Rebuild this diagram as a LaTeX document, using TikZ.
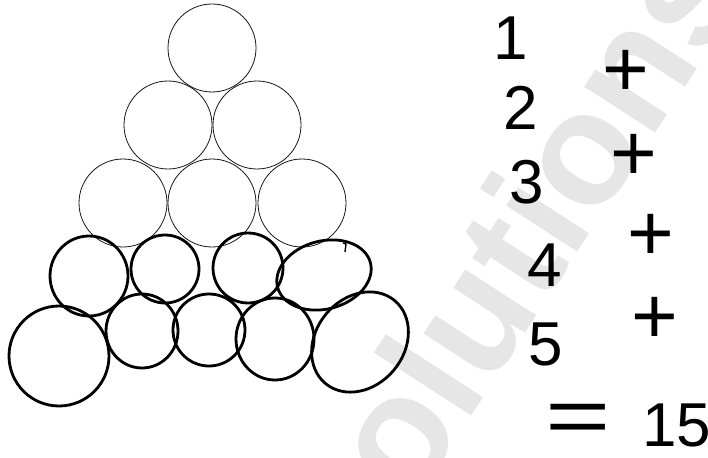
\documentclass[tikz,border=0pt]{standalone}
\usepackage{fontspec}
\setmainfont{Liberation Sans}
\usepackage{xcolor}
\definecolor{markgray}{RGB}{230,230,230}
\definecolor{inkfig}{RGB}{20,20,20}
\tikzset{
    thinring/.style={line width=0.8pt, color=inkfig},
    thickring/.style={line width=2.8pt, color=black},
    handnum/.style={font=\fontsize{62}{62}\selectfont, inner sep=0pt, color=black},
    handplus/.style={font=\fontsize{80}{80}\selectfont, inner sep=0pt, color=black},
    watermark/.style={font=\fontsize{160}{160}\selectfont\bfseries, color=markgray, inner sep=0pt}
}

\begin{document}
\begin{tikzpicture}[x=1pt, y=-1pt]
        \useasboundingbox (0,0) rectangle (708,457);
        
        % faint watermark behind everything
        \node[watermark, rotate=57, anchor=base west] (mark) at (354,597) {Solutions};
        
        % top three rows, printed circles
        \draw[thinring] (212,48) circle (44);
        \draw[thinring] (168,125) circle (44);
        \draw[thinring] (257,125) circle (44);
        \draw[thinring] (123,203) circle (44);
        \draw[thinring] (212,203) circle (44);
        \draw[thinring] (302,203) circle (44);
        
        % fourth row, drawn by hand
        \draw[thickring] (89,276) ellipse (39 and 40);
        \draw[thickring] (165,269) circle (34);
        \draw[thickring] (248,268) circle (35);
        \draw[thickring, rotate around={15:(324,275)}] (324,275) ellipse (48 and 34);
        \draw[line width=1.4pt] (343,243) -- (346,244) -- (345,252);
        
        % fifth row, drawn by hand
        \draw[thickring] (59,356) circle (50);
        \draw[thickring] (142,331) ellipse (36 and 37);
        \draw[thickring] (209,330) circle (36);
        \draw[thickring] (275,339) ellipse (39 and 41);
        \draw[thickring, rotate around={50:(360,342)}] (360,342) ellipse (54 and 44);
        
        % the sum
        \node[handnum] (one) at (511,38) {1};
        \node[handnum] (two) at (521,108) {2};
        \node[handnum] (three) at (527,182) {3};
        \node[handnum] (four) at (545,265) {4};
        \node[handnum] (five) at (546,344) {5};
        
        \node[handplus] (plusa) at (626,73) {+};
        \node[handplus] (plusb) at (634,157) {+};
        \node[handplus] (plusc) at (651,237) {+};
        \node[handplus] (plusd) at (655,320) {+};
        
        \node[handplus, xscale=1.4] (equals) at (578,424) {=};
        \node[handnum, anchor=west] (total) at (642,425) {15};
        
    \end{tikzpicture}
\end{document}
